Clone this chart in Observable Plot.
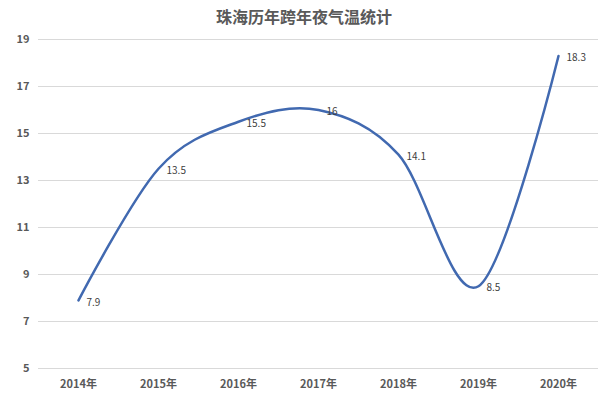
<!DOCTYPE html>
<html><head><meta charset="utf-8">
<script src="https://cdn.jsdelivr.net/npm/d3@7"></script>
<script src="https://cdn.jsdelivr.net/npm/@observablehq/plot@0.6"></script>
<style>
body{margin:0;background:#fff;font-family:"Noto Sans CJK SC","Noto Sans",sans-serif;}
#title{height:30px;line-height:32px;text-align:center;font-size:16px;font-weight:bold;color:#595959;}
</style></head>
<body>
<div id="title">珠海历年跨年夜气温统计</div>
<div id="chart"></div>
<script>
const years = ["2014年","2015年","2016年","2017年","2018年","2019年","2020年"];
const temps = [7.9, 13.5, 15.5, 16, 14.1, 8.5, 18.3];
const yTicks = [5, 7, 9, 11, 13, 15, 17, 19];

const data = years.map((y, i) => ({year: y, t: temps[i]}));

const chart = Plot.plot({
  width: 608,
  height: 364,
  marginTop: 9,
  marginBottom: 26,
  marginLeft: 38,
  marginRight: 10,
  style: {fontFamily: '"Noto Sans CJK SC","Noto Sans",sans-serif', background: "#fff"},
  x: {type: "point", domain: years, padding: 0.5, label: null},
  y: {domain: [5, 19], label: null},
  marks: [
    Plot.ruleY(yTicks, {stroke: "#d9d9d9", strokeWidth: 1}),
    Plot.axisY({ticks: yTicks, tickSize: 0, tickPadding: 9, fontSize: 11, fontWeight: "bold", fill: "#595959", label: null}),
    Plot.axisX({tickSize: 0, tickPadding: 12, fontSize: 11, fontWeight: "bold", fill: "#595959", label: null}),
    Plot.line(data, {x: "year", y: "t", curve: "cardinal", stroke: "#4169B0", strokeWidth: 2.5}),
    Plot.text(data, {x: "year", y: "t", text: d => String(d.t), dx: 8, dy: 2, textAnchor: "start", fontSize: 10, fill: "#404040"})
  ]
});
document.getElementById("chart").appendChild(chart);
</script>
</body></html>
